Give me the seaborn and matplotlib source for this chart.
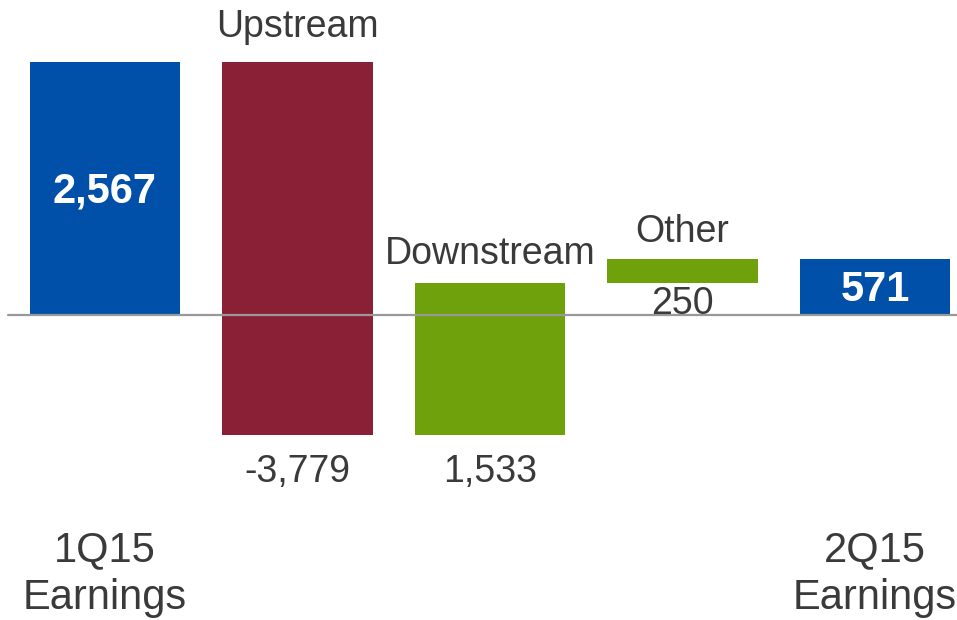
import matplotlib
matplotlib.use("Agg")
import matplotlib.pyplot as plt
import matplotlib.transforms as mtransforms
import seaborn as sns

# Earnings bridge, 1Q15 -> 2Q15
categories = ["1Q15\nEarnings", "Upstream", "Downstream", "Other", "2Q15\nEarnings"]
values = [2567, -3779, 1533, 250, 571]
is_total = [True, False, False, False, True]
bar_colors = ["#0050AA", "#8A2036", "#6EA10B", "#6EA10B", "#0050AA"]

sns.set_theme(style="white")
plt.rcParams["font.family"] = ["Liberation Sans", "DejaVu Sans"]

TEXT = "#3a3a3a"

# running totals give each bar's base
bottoms = []
running = 0
for v, tot in zip(values, is_total):
    if tot:
        bottoms.append(0)
        running = v
    else:
        bottoms.append(running)
        running += v

fig = plt.figure(figsize=(9.57, 6.2), dpi=100)
ax = fig.add_axes([0, 0, 1, 1])

sns.barplot(x=categories, y=values, hue=categories, palette=bar_colors,
            width=0.78, saturation=1, legend=False, ax=ax, zorder=2)

for patch, base in zip(ax.patches, bottoms):
    patch.set_y(base)
    patch.set_edgecolor("none")

ax.set_xlim(-0.545, 4.426)
ax.set_ylim(-3090, 3191)
ax.axhline(0, xmin=8 / 957, xmax=1, color="#999999", lw=1.6, zorder=3)

# label offsets (points) for the step bars: name above, value below
name_offsets = [0, 18, 14, 12, 0]
value_offsets = [0, -14, -14, -2, 0]

trans = mtransforms.blended_transform_factory(ax.transData, ax.transAxes)
for i, (cat, v, base, tot) in enumerate(zip(categories, values, bottoms, is_total)):
    top = max(base, base + v)
    low = min(base, base + v)
    if tot:
        ax.annotate(f"{v:,}", (i, (top + low) / 2), xytext=(0, -2),
                    textcoords="offset points", ha="center", va="center",
                    color="white", fontsize=30, fontweight="bold", zorder=4)
        ax.text(i, 1 - 574 / 620, cat, transform=trans, ha="center", va="center",
                color=TEXT, fontsize=30, linespacing=1.27)
    else:
        ax.annotate(cat, (i, top), xytext=(0, name_offsets[i]),
                    textcoords="offset points", ha="center", va="baseline",
                    color=TEXT, fontsize=27)
        ax.annotate(f"{v:,}", (i, low), xytext=(0, value_offsets[i]),
                    textcoords="offset points", ha="center", va="top",
                    color=TEXT, fontsize=27)

ax.set_axis_off()
fig.savefig("out.png", dpi=100)
